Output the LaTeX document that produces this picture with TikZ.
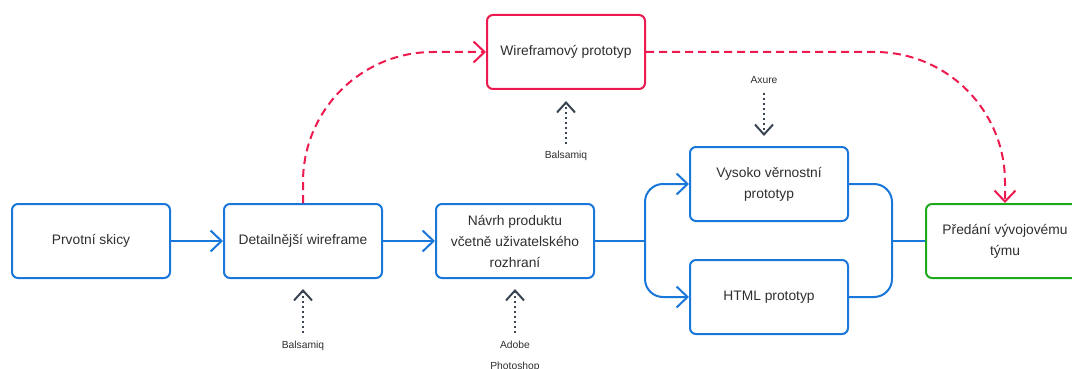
\documentclass[tikz,border=0pt]{standalone}
\usepackage{fontspec}
\setmainfont{Liberation Sans}
\usetikzlibrary{arrows.meta}
\definecolor{flowblue}{HTML}{1A77DA}
\definecolor{altred}{HTML}{EC1A4E}
\definecolor{donegreen}{HTML}{1EAA1E}
\definecolor{toolgrey}{HTML}{3B4452}
\definecolor{textgrey}{HTML}{2E2E2E}

\begin{document}
\begin{tikzpicture}[x=1pt,y=-1pt,
  box/.style={draw=flowblue, line width=2pt, rounded corners=6pt,
    minimum width=158pt, minimum height=74pt, inner sep=0pt,
    align=center, text=textgrey, font=\fontsize{13.8}{21}\selectfont},
  tool/.style={text=textgrey, align=center, inner sep=2pt,
    font=\fontsize{10.3}{21}\selectfont},
  flowline/.style={draw=flowblue, line width=2pt},
  flow/.style={flowline, -{Straight Barb[length=11pt,width=21pt]}},
  alt/.style={draw=altred, line width=2pt, dash pattern=on 8pt off 5pt,
    -{Straight Barb[length=11pt,width=21pt]}},
  toolarrow/.style={draw=toolgrey, line width=2pt,
    dash pattern=on 2pt off 3pt,
    -{Straight Barb[length=10pt,width=18pt,line width=2pt]}}
]
\useasboundingbox (0,0) rectangle (1072,369);
\clip (0,0) rectangle (1072,369);

% process steps
\node[box] (sk) at (91,241) {Prvotní skicy};
\node[box] (dw) at (303,241) {Detailnější wireframe};
\node[box] (np) at (515,241) {Návrh produktu\\včetně uživatelského\\rozhraní};
\node[box] (vp) at (769,184) {Vysoko věrnostní\\prototyp};
\node[box] (hp) at (769,297) {HTML prototyp};
\node[box, draw=donegreen] (pt) at (1005,241) {Předání vývojovému\\týmu};
\node[box, draw=altred] (wp) at (566,52) {Wireframový prototyp};

% tools
\node[tool] (t1) at (303,346) {Balsamiq};
\node[tool] (t2) at (515,356) {Adobe\\Photoshop};
\node[tool] (t3) at (566,156) {Balsamiq};
\node[tool] (t4) at (764,80) {Axure};

% main flow
\draw[flow] (sk) -- (dw);
\draw[flow] (dw) -- (np);
\coordinate (split) at (645,241);
\coordinate (merge) at (892,241);
\draw[flowline] (np.east) -- (split);
\draw[flow, rounded corners=18pt] (split) |- (vp.west);
\draw[flow, rounded corners=18pt] (split) |- (hp.west);
\draw[flowline, rounded corners=18pt] (vp.east) -| (merge);
\draw[flowline, rounded corners=18pt] (hp.east) -| (merge);
\draw[flowline] (merge) -- (pt.west);

% wireframe prototype branch
\draw[alt, rounded corners=130pt] (dw.north) |- (wp.west);
\draw[alt, rounded corners=130pt] (wp.east) -| (pt.north);

% tool hints
\draw[toolarrow, shorten <=6pt, shorten >=10pt] (t1.north) -- (dw.south);
\draw[toolarrow, shorten <=6pt, shorten >=10pt] (t2.north) -- (np.south);
\draw[toolarrow, shorten <=5pt, shorten >=11pt] (t3.north) -- (wp.south);
\draw[toolarrow, shorten <=7pt, shorten >=10pt] (t4.south) -- (t4.south |- vp.north);
\end{tikzpicture}
\end{document}
